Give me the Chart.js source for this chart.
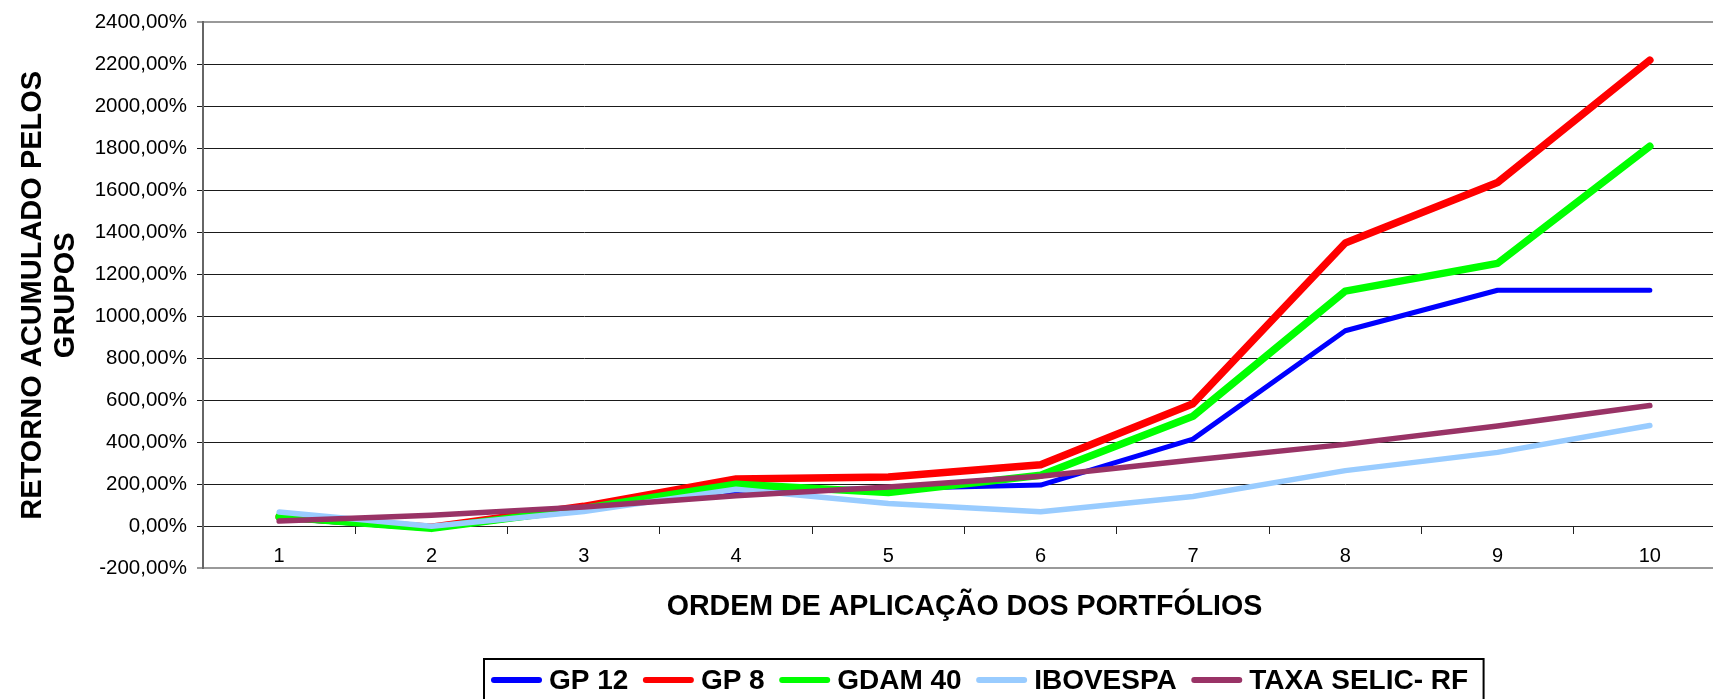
<!DOCTYPE html>
<html>
<head>
<meta charset="utf-8">
<script src="https://cdn.jsdelivr.net/npm/chart.js@4"></script>
<style>
  html, body { margin: 0; padding: 0; background: #fff; overflow: hidden; }
  #wrap { width: 1713px; height: 699px; overflow: hidden; position: relative; }
  #c { position: absolute; left: 0; top: 0; }
</style>
</head>
<body>
<div id="wrap"><canvas id="c" width="1740" height="699"></canvas></div>
<script>
// Cumulative return (%) per application order
const categories = ['1', '2', '3', '4', '5', '6', '7', '8', '9', '10'];
const gp12     = [40, -12, 80, 168, 180, 196, 415, 931, 1124, 1124];
const gp8      = [45, -5, 95, 225, 235, 293, 584, 1349, 1637, 2220];
const gdam40   = [45, -10, 85, 200, 161, 243, 524, 1120, 1252, 1810];
const ibovespa = [68, 0, 70, 176, 109, 69, 142, 265, 352, 480];
const selic    = [25, 52, 92, 145, 187, 238, 316, 390, 478, 575];

const yMin = -200;
const yMax = 2400;
const yStep = 200;

const FONT = "'Liberation Sans', Arial, Helvetica, sans-serif";
Chart.defaults.font.family = FONT;
Chart.defaults.color = '#000';

function series(label, data, color, width, order) {
  return {
    label, data, order,
    borderColor: color,
    backgroundColor: color,
    borderWidth: width,
    pointRadius: 0,
    pointHoverRadius: 0,
    tension: 0,
    borderCapStyle: 'round',
    borderJoinStyle: 'round',
    fill: false
  };
}

// Legend drawn as a framed row of line samples below the axis title
const boxedLegend = {
  id: 'boxedLegend',
  afterDraw(chart) {
    const ctx = chart.ctx;
    const y = 680;
    const lineLen = 45;
    ctx.save();
    ctx.font = 'bold 28px ' + FONT;
    ctx.textBaseline = 'middle';
    ctx.textAlign = 'left';
    let x = 491;
    const left = 484;
    chart.data.datasets.forEach(ds => {
      ctx.strokeStyle = ds.borderColor;
      ctx.lineWidth = 6;
      ctx.lineCap = 'round';
      ctx.beginPath();
      ctx.moveTo(x + 3, y);
      ctx.lineTo(x + 3 + lineLen, y);
      ctx.stroke();
      x += 51 + 7;
      ctx.fillStyle = '#000';
      ctx.fillText(ds.label, x, y + 1);
      x += ctx.measureText(ds.label).width + 14.5;
    });
    const right = x + 1;
    ctx.strokeStyle = '#000';
    ctx.lineWidth = 2;
    ctx.lineCap = 'butt';
    ctx.strokeRect(left, 659, right - left, 60);
    ctx.restore();
  }
};

new Chart(document.getElementById('c'), {
  type: 'line',
  data: {
    labels: categories,
    datasets: [
      series('GP 12', gp12, '#0000FF', 5, 5),
      series('GP 8', gp8, '#FF0000', 7.5, 4),
      series('GDAM 40', gdam40, '#00FF00', 7.5, 3),
      series('IBOVESPA', ibovespa, '#99CCFF', 5.5, 2),
      series('TAXA SELIC- RF', selic, '#993366', 5.5, 1)
    ]
  },
  options: {
    responsive: false,
    animation: false,
    devicePixelRatio: 1,
    layout: { padding: { top: 19.6, left: 0, right: 14, bottom: 74.4 } },
    plugins: {
      legend: { display: false },
      tooltip: { enabled: false },
      title: {
        display: true,
        text: 'ORDEM DE APLICAÇÃO DOS PORTFÓLIOS',
        position: 'bottom',
        fullSize: false,
        align: 'center',
        color: '#000',
        font: { size: 28.6, weight: 'bold', family: FONT, lineHeight: 1.2 },
        padding: { top: 22, bottom: 0 }
      }
    },
    scales: {
      x: {
        type: 'category',
        position: { y: 0 },
        offset: true,
        grid: {
          offset: true,
          drawOnChartArea: false,
          drawTicks: true,
          tickLength: 7,
          color: '#222',
          lineWidth: 1
        },
        border: { display: true, color: '#222', width: 1 },
        ticks: {
          color: '#000',
          font: { size: 20, family: FONT },
          padding: 11,
          maxRotation: 0,
          autoSkip: false
        }
      },
      y: {
        min: yMin,
        max: yMax,
        afterFit(scale) { scale.width = 203; },
        ticks: {
          stepSize: yStep,
          color: '#000',
          font: { size: 20.5, family: FONT },
          padding: 10,
          callback: v => v + ',00%'
        },
        grid: {
          color: c => (c.tick && (c.tick.value === yMax || c.tick.value === yMin)) ? '#999' : '#1a1a1a',
          lineWidth: c => (c.tick && (c.tick.value === yMax || c.tick.value === yMin)) ? 2 : 1,
          tickLength: 6,
          drawTicks: true
        },
        border: { display: true, color: '#666', width: 2 },
        title: {
          display: true,
          text: ['RETORNO ACUMULADO PELOS', 'GRUPOS'],
          color: '#000',
          font: { size: 29, weight: 'bold', family: FONT, lineHeight: 33 / 29 },
          padding: { top: 16.5, bottom: 0 }
        }
      }
    }
  },
  plugins: [boxedLegend]
});
</script>
</body>
</html>
